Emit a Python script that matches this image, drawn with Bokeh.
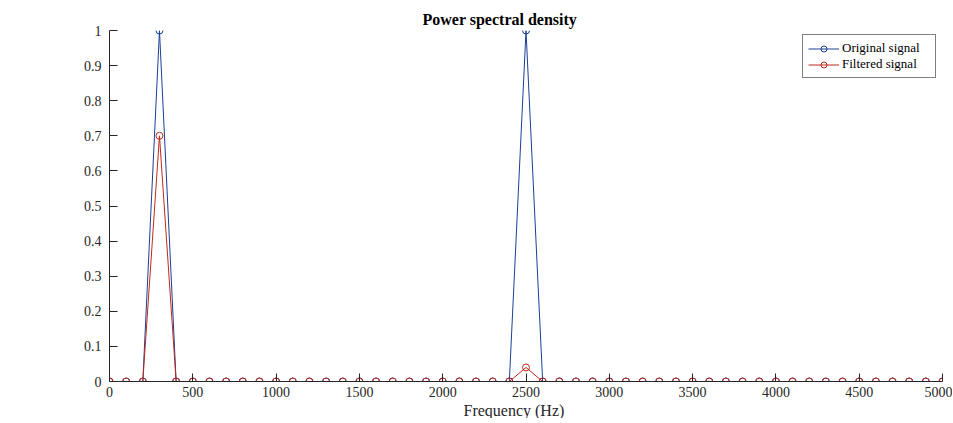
from bokeh.plotting import figure
from bokeh.models import Range1d, FixedTicker, Title, Legend, LegendItem
from bokeh.embed import file_html
from bokeh.resources import INLINE

# ---- data ----
freq = [0, 100, 200, 300, 400, 500, 600, 700, 800, 900,
        1000, 1100, 1200, 1300, 1400, 1500, 1600, 1700, 1800, 1900,
        2000, 2100, 2200, 2300, 2400, 2500, 2600, 2700, 2800, 2900,
        3000, 3100, 3200, 3300, 3400, 3500, 3600, 3700, 3800, 3900,
        4000, 4100, 4200, 4300, 4400, 4500, 4600, 4700, 4800, 4900,
        5000]
original = [0, 0, 0, 1.0, 0, 0, 0, 0, 0, 0,
            0, 0, 0, 0, 0, 0, 0, 0, 0, 0,
            0, 0, 0, 0, 0, 1.0, 0, 0, 0, 0,
            0, 0, 0, 0, 0, 0, 0, 0, 0, 0,
            0, 0, 0, 0, 0, 0, 0, 0, 0, 0,
            0]
filtered = [0, 0, 0, 0.70, 0, 0, 0, 0, 0, 0,
            0, 0, 0, 0, 0, 0, 0, 0, 0, 0,
            0, 0, 0, 0, 0, 0.04, 0, 0, 0, 0,
            0, 0, 0, 0, 0, 0, 0, 0, 0, 0,
            0, 0, 0, 0, 0, 0, 0, 0, 0, 0,
            0]
x_ticks = [0, 500, 1000, 1500, 2000, 2500, 3000, 3500, 4000, 4500, 5000]
y_ticks = [0, 0.1, 0.2, 0.3, 0.4, 0.5, 0.6, 0.7, 0.8, 0.9, 1]
y_tick_labels = ["0", "0.1", "0.2", "0.3", "0.4", "0.5", "0.6", "0.7", "0.8", "0.9", "1"]
series_names = ["Original signal", "Filtered signal"]

FONT = "Liberation Serif"
BLUE = "#1a3f96"
RED = "#c0281c"
AX = "#262626"

p = figure(frame_width=833, frame_height=351,
           x_range=Range1d(0, 5000), y_range=Range1d(0, 1),
           output_backend="svg", toolbar_location=None,
           min_border_left=109, min_border_right=10,
           min_border_top=30, min_border_bottom=10,
           title="Power spectral density")
p.background_fill_color = "white"
p.border_fill_color = "white"
p.outline_line_color = None
p.grid.visible = False

p.title.align = "left"
p.title.offset = 313
p.title.text_font = FONT
p.title.text_font_size = "16px"
p.title.text_font_style = "bold"
p.title.text_color = "black"
p.title.standoff = 6

xl = Title(text="Frequency (Hz)", align="left", offset=354,
           text_font=FONT, text_font_size="16px", text_font_style="normal",
           text_color="#262626", standoff=0)
p.add_layout(xl, "below")

for ax in (p.xaxis[0], p.yaxis[0]):
    ax.axis_line_color = AX
    ax.axis_line_width = 1
    ax.major_tick_line_color = AX
    ax.major_tick_in = 8
    ax.major_tick_out = 0
    ax.minor_tick_line_color = None
    ax.major_label_text_font = FONT
    ax.major_label_text_font_size = "14px"
    ax.major_label_text_color = "#262626"

p.xaxis.ticker = FixedTicker(ticks=x_ticks)
p.xaxis.major_label_standoff = 5
p.yaxis.ticker = FixedTicker(ticks=y_ticks)
p.yaxis.major_label_overrides = dict(zip(y_ticks, y_tick_labels))
p.yaxis.major_label_standoff = 8

r1l = p.line(freq, original, line_color=BLUE, line_width=1)
r1m = p.scatter(freq, original, marker="circle", size=7, fill_color=None,
                line_color=BLUE, line_width=1)
r2l = p.line(freq, filtered, line_color=RED, line_width=1)
r2m = p.scatter(freq, filtered, marker="circle", size=7, fill_color=None,
                line_color=RED, line_width=1)

legend = Legend(items=[LegendItem(label=series_names[0], renderers=[r1l, r1m]),
                       LegendItem(label=series_names[1], renderers=[r2l, r2m])],
                location=(693, 303))
legend.margin = 0
legend.padding = 5
legend.spacing = 0
legend.glyph_width = 31
legend.glyph_height = 15
legend.label_height = 15
legend.label_width = 88
legend.label_standoff = 3
legend.label_text_font = FONT
legend.label_text_font_size = "13px"
legend.label_text_color = "black"
legend.border_line_color = "black"
legend.border_line_width = 1
legend.background_fill_color = "white"
legend.background_fill_alpha = 1
p.add_layout(legend)

open("out.html", "w").write(file_html(p, INLINE))
